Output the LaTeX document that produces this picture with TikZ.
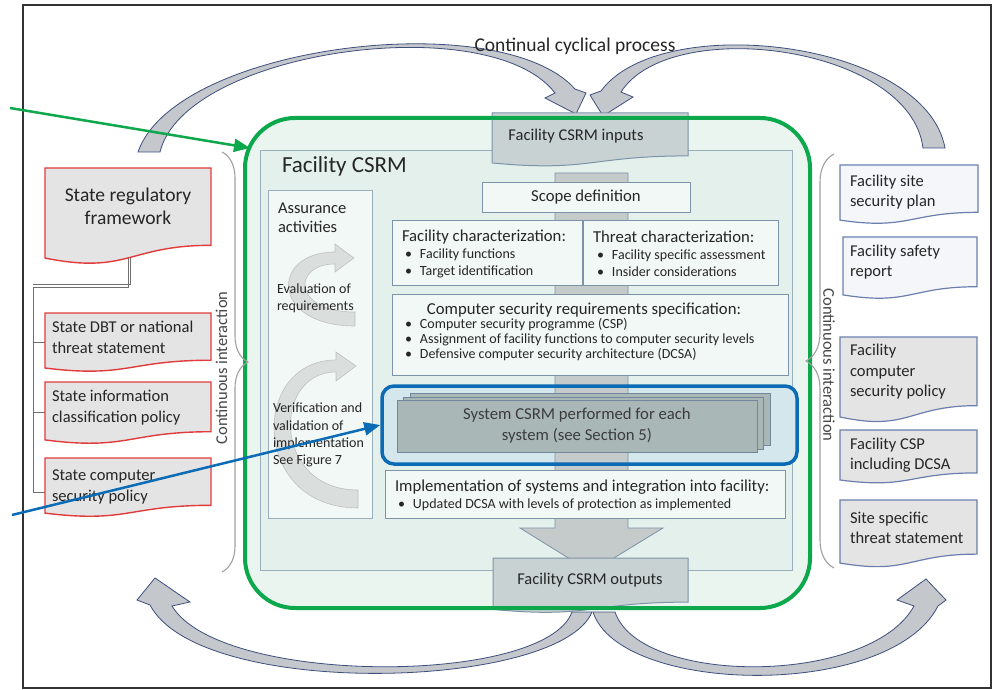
\documentclass[tikz,border=0pt]{standalone}
\usepackage{fontspec}
\setmainfont{Carlito}
\usetikzlibrary{arrows.meta,decorations.pathreplacing}

\definecolor{ink}{HTML}{262626}
\definecolor{framec}{HTML}{333333}
\definecolor{mint}{HTML}{EAF5F0}
\definecolor{panelfill}{HTML}{E3F0EB}
\definecolor{panelline}{HTML}{9AAFBC}
\definecolor{boxfill}{HTML}{F1F8F5}
\definecolor{boxline}{HTML}{7D93A8}
\definecolor{greyfill}{HTML}{C9D2D2}
\definecolor{barfill}{HTML}{C5CACA}
\definecolor{stackfill}{HTML}{A9B7B7}
\definecolor{stackline}{HTML}{72879B}
\definecolor{bluefill}{HTML}{D3E7EC}
\definecolor{bluec}{HTML}{0B6BB5}
\definecolor{greenc}{HTML}{0DA84C}
\definecolor{redc}{HTML}{E23B3B}
\definecolor{docgrey}{HTML}{E4E4E4}
\definecolor{doclight}{HTML}{F4F6F9}
\definecolor{docline}{HTML}{6A7FAE}
\definecolor{arcfill}{HTML}{C4C7CC}
\definecolor{arcline}{HTML}{3E4F7D}
\definecolor{bracec}{HTML}{A0A0A0}
\definecolor{treec}{HTML}{707070}

\newcommand{\fs}[2]{\fontsize{#1}{#2}\selectfont}
\newcommand{\bul}{\makebox[15pt][l]{\textbullet}}
% document symbol: flat top, wavy bottom (#2,#3) top-left, (#4,#5) nominal bottom-right
\newcommand{\docshape}[5]{%
  \pgfmathsetmacro{\docW}{#4-#2}%
  \pgfmathsetmacro{\docH}{#5-#3}%
  \path[#1] (#2,#3) -- (#4,#3) -- (#4,{#3+0.802*\docH})
    .. controls ({#2+0.5*\docW},{#3+0.802*\docH}) and ({#2+0.5*\docW},{#3+1.1075*\docH})
    .. (#2,{#3+0.934*\docH}) -- cycle;}

\tikzset{
  txt/.style={inner sep=0pt, outer sep=0pt, text=ink},
  headtxt/.style={txt, font=\fs{16.7}{20}},
  smalltxt/.style={txt, font=\fs{14}{16.7}, align=left},
  doctxt/.style={txt, font=\fs{16.5}{20.5}, align=left},
  plainbox/.style={draw=boxline, fill=boxfill, line width=0.8pt, inner sep=0pt, outer sep=0pt},
  arcband/.style={fill=arcfill, draw=arcline, line width=0.8pt},
  redoc/.style={fill=docgrey, draw=redc, line width=1.4pt},
  bluedoc/.style={fill=doclight, draw=docline, line width=1.2pt},
  greydoc/.style={fill=docgrey, draw=docline, line width=1.2pt},
  gdoc/.style={fill=greyfill, draw=boxline, line width=1pt},
  curly/.style={draw=bracec, line width=1.1pt, decorate, decoration={brace, amplitude=#1}},
  assur/.style={fill=gray!55, fill opacity=0.4, draw=gray!70, draw opacity=0.6, line width=0.6pt},
  treeline/.style={draw=treec, line width=1pt},
  stackbox/.style={draw=stackline, fill=stackfill, line width=0.8pt, inner sep=0pt, outer sep=0pt},
}

\begin{document}
\begin{tikzpicture}[x=1pt,y=-1pt]
\useasboundingbox (0,0) rectangle (994,690);

% outer frame
\draw[framec, line width=1.6pt, fill=white] (23,5) rectangle (991,688);

% continual cyclical process: curved band arrows
\path[arcband] (160,152) .. controls (185,50) and (490,8) .. (555,93)
  -- (545,98) -- (576,114) -- (586,93) -- (575,89)
  .. controls (500,5) and (175,45) .. (138,152) -- cycle;
\path[arcband] (945,148) .. controls (925,40) and (660,10) .. (601,91)
  -- (590,95) -- (603,116) -- (633,97) -- (621,92)
  .. controls (670,15) and (910,45) .. (923,148) -- cycle;
\path[arcband] (592,612) .. controls (560,690) and (200,700) .. (150,605)
  -- (137,600) -- (155,578) -- (190,602) -- (172,606)
  .. controls (220,686) and (545,686) .. (572,612) -- cycle;
\path[arcband] (593,612) .. controls (620,695) and (890,700) .. (938,606)
  -- (946,600) -- (926,579) -- (897,600) -- (914,606)
  .. controls (870,686) and (640,686) .. (615,612) -- cycle;
\node[txt, font=\fs{19.5}{23}] (cyclelabel) at (575,46) {Continual cyclical process};

% facility CSRM area
\fill[mint, rounded corners=50pt] (245,118) rectangle (810,608);
\node[draw=panelline, fill=panelfill, line width=0.8pt, inner sep=0pt,
      minimum width=532pt, minimum height=420pt] (panel) at (526,360) {};
\node[txt, anchor=west, font=\fs{23}{27}] (csrmtitle) at (282,166) {Facility CSRM};

% assurance activities column
\node[draw=panelline, fill=boxfill, line width=0.8pt, inner sep=0pt,
      minimum width=104pt, minimum height=328pt] (assurance) at (320,354) {};
\path[assur] (355,326) .. controls (270,326) and (270,252) .. (335,252)
  -- (335,244) -- (354,258) -- (335,272) -- (335,264)
  .. controls (292,264) and (292,312) .. (355,312) -- cycle;
\path[assur] (358,508) .. controls (250,508) and (250,360) .. (336,360)
  -- (336,352) -- (356,366) -- (336,381) -- (336,372)
  .. controls (272,372) and (272,490) .. (358,490) -- cycle;
\node[txt, anchor=west, font=\fs{16.5}{19}, align=left] (assurtitle) at (278,217.5) {Assurance\\activities};
\node[smalltxt, anchor=west] (evalreq) at (277,298.5) {Evaluation of\\requirements};
\node[smalltxt, anchor=west, font=\fs{14}{17.3}] (verif) at (273,435) {Verification and\\validation of\\implementation\\See Figure 7};

% system CSRM highlight background and main flow bar
\fill[bluefill, rounded corners=12pt] (382,386) rectangle (797,464);
\path[fill=barfill, draw=boxline, line width=0.8pt]
  (555,173) -- (628,173) -- (628,528) -- (663,528) -- (591,572) -- (520,528) -- (555,528) -- cycle;

% process boxes
\node[plainbox, minimum width=208pt, minimum height=30pt, font=\fs{16.7}{20}, text=ink] (scope) at (586,197) {Scope definition};
\node[plainbox, minimum width=190pt, minimum height=65pt] (fchar) at (487,252.5) {};
\node[plainbox, minimum width=195pt, minimum height=65pt] (tchar) at (680.5,252.5) {};
\node[headtxt, anchor=west] (fchartitle) at (402,237) {Facility characterization:};
\node[smalltxt, anchor=west] (fcharlist) at (405,263.5) {\bul Facility functions\\\bul Target identification};
\node[headtxt, anchor=west] (tchartitle) at (593,237) {Threat characterization:};
\node[smalltxt, anchor=west] (tcharlist) at (597,263.5) {\bul Facility specific assessment\\\bul Insider considerations};

\node[plainbox, minimum width=396pt, minimum height=81pt] (csreq) at (590,334.5) {};
\node[headtxt] (csreqtitle) at (584,310) {Computer security requirements specification:};
\node[smalltxt, anchor=west, font=\fs{14}{15}] (csreqlist) at (405,340)
  {\bul Computer security programme (CSP)\\\bul Assignment of facility functions to computer security levels\\\bul Defensive computer security architecture (DCSA)};

\node[stackbox, minimum width=360pt, minimum height=52pt] (stackback) at (590,419) {};
\node[stackbox, minimum width=360pt, minimum height=52pt] (stackmid) at (583,423) {};
\node[stackbox, minimum width=360pt, minimum height=52pt, font=\fs{16.7}{21}, align=center, text=ink!90] (syscsrm) at (577,426)
  {System CSRM performed for each\\system (see Section 5)};
\node[draw=bluec, line width=3.5pt, rounded corners=12pt, inner sep=0pt,
      minimum width=415pt, minimum height=78pt] (sysframe) at (589.5,425) {};

\node[plainbox, minimum width=400pt, minimum height=48pt] (impl) at (585,494) {};
\node[headtxt, anchor=west] (impltitle) at (395,487) {Implementation of systems and integration into facility:};
\node[smalltxt, anchor=west] (impllist) at (398,505) {\bul Updated DCSA with levels of protection as implemented};

% CSRM inputs and outputs
\docshape{gdoc}{492}{113}{688}{166.5}
\node[txt, font=\fs{16.5}{20}] (inputs) at (576,136) {Facility CSRM inputs};
\docshape{gdoc}{493}{558}{688}{613}
\node[txt, font=\fs{16.5}{20}] (outputs) at (590,580) {Facility CSRM outputs};

% green outline
\node[draw=greenc, line width=4pt, rounded corners=50pt, inner sep=0pt,
      minimum width=565pt, minimum height=490pt] (csrmframe) at (527.5,363) {};

% state documents and the links between them
\coordinate (treetop) at (128,256);
\coordinate (trunktop) at (33,287);
\coordinate (t2) at (46,342);
\coordinate (t3) at (46,412);
\coordinate (t4) at (46,492);
\draw[treeline] (treetop) -- (128,287) -- (trunktop) -- (33,492) -- (t4);
\draw[treeline] (130.5,258) -- (130.5,284.5) -- (33,284.5);
\draw[treeline] (33,342) -- (t2);
\draw[treeline] (33,412) -- (t3);

\docshape{redoc}{45}{168}{211}{264.4}
\docshape{redoc}{45}{313}{211}{371.9}
\docshape{redoc}{45}{382}{211}{444}
\docshape{redoc}{45}{458}{211}{517}
\node[txt, font=\fs{19.5}{23}, align=center] (statereg) at (128,206.5) {State regulatory\\framework};
\node[doctxt, anchor=west] (statedbt) at (52,337.5) {State DBT or national\\threat statement};
\node[doctxt, anchor=west] (stateinfo) at (52,407.5) {State information\\classification policy};
\node[doctxt, anchor=west] (statecs) at (52,487) {State computer\\security policy};

% facility documents
\docshape{bluedoc}{840}{165}{978}{224}
\docshape{bluedoc}{843}{237}{977}{299}
\docshape{greydoc}{840}{337}{977}{422.6}
\docshape{greydoc}{840}{430}{977}{483.5}
\docshape{greydoc}{840}{500}{977}{567.5}
\node[doctxt, anchor=west] (siteplan) at (850,192) {Facility site\\security plan};
\node[doctxt, anchor=west] (safety) at (850,262) {Facility safety\\report};
\node[doctxt, anchor=west] (cspolicy) at (850,372) {Facility\\computer\\security policy};
\node[doctxt, anchor=west] (cspdcsa) at (850,455) {Facility CSP\\including DCSA};
\node[doctxt, anchor=west] (sitethreat) at (850,528) {Site specific\\threat statement};

% continuous interaction braces
\draw[curly=26pt] (222,152) -- (222,572);
\draw[curly=28pt] (834,568) -- (834,154);
\node[txt, rotate=90, font=\fs{16.5}{20}, text=ink!85] (ciwest) at (221.5,368) {Continuous interaction};
\node[txt, rotate=-90, font=\fs{16.5}{20}, text=ink!85] (cieast) at (829,365) {Continuous interaction};

% pointer arrows
\coordinate (gstart) at (10,108);
\coordinate (gend) at (250,148);
\draw[greenc, line width=2.5pt, -{Triangle[length=16pt,width=13pt]}] (gstart) -- (gend);
\coordinate (bstart) at (12,515);
\draw[bluec, line width=2.5pt, -{Triangle[length=16pt,width=13pt]}] (bstart) -- (sysframe.west);
\end{tikzpicture}
\end{document}
